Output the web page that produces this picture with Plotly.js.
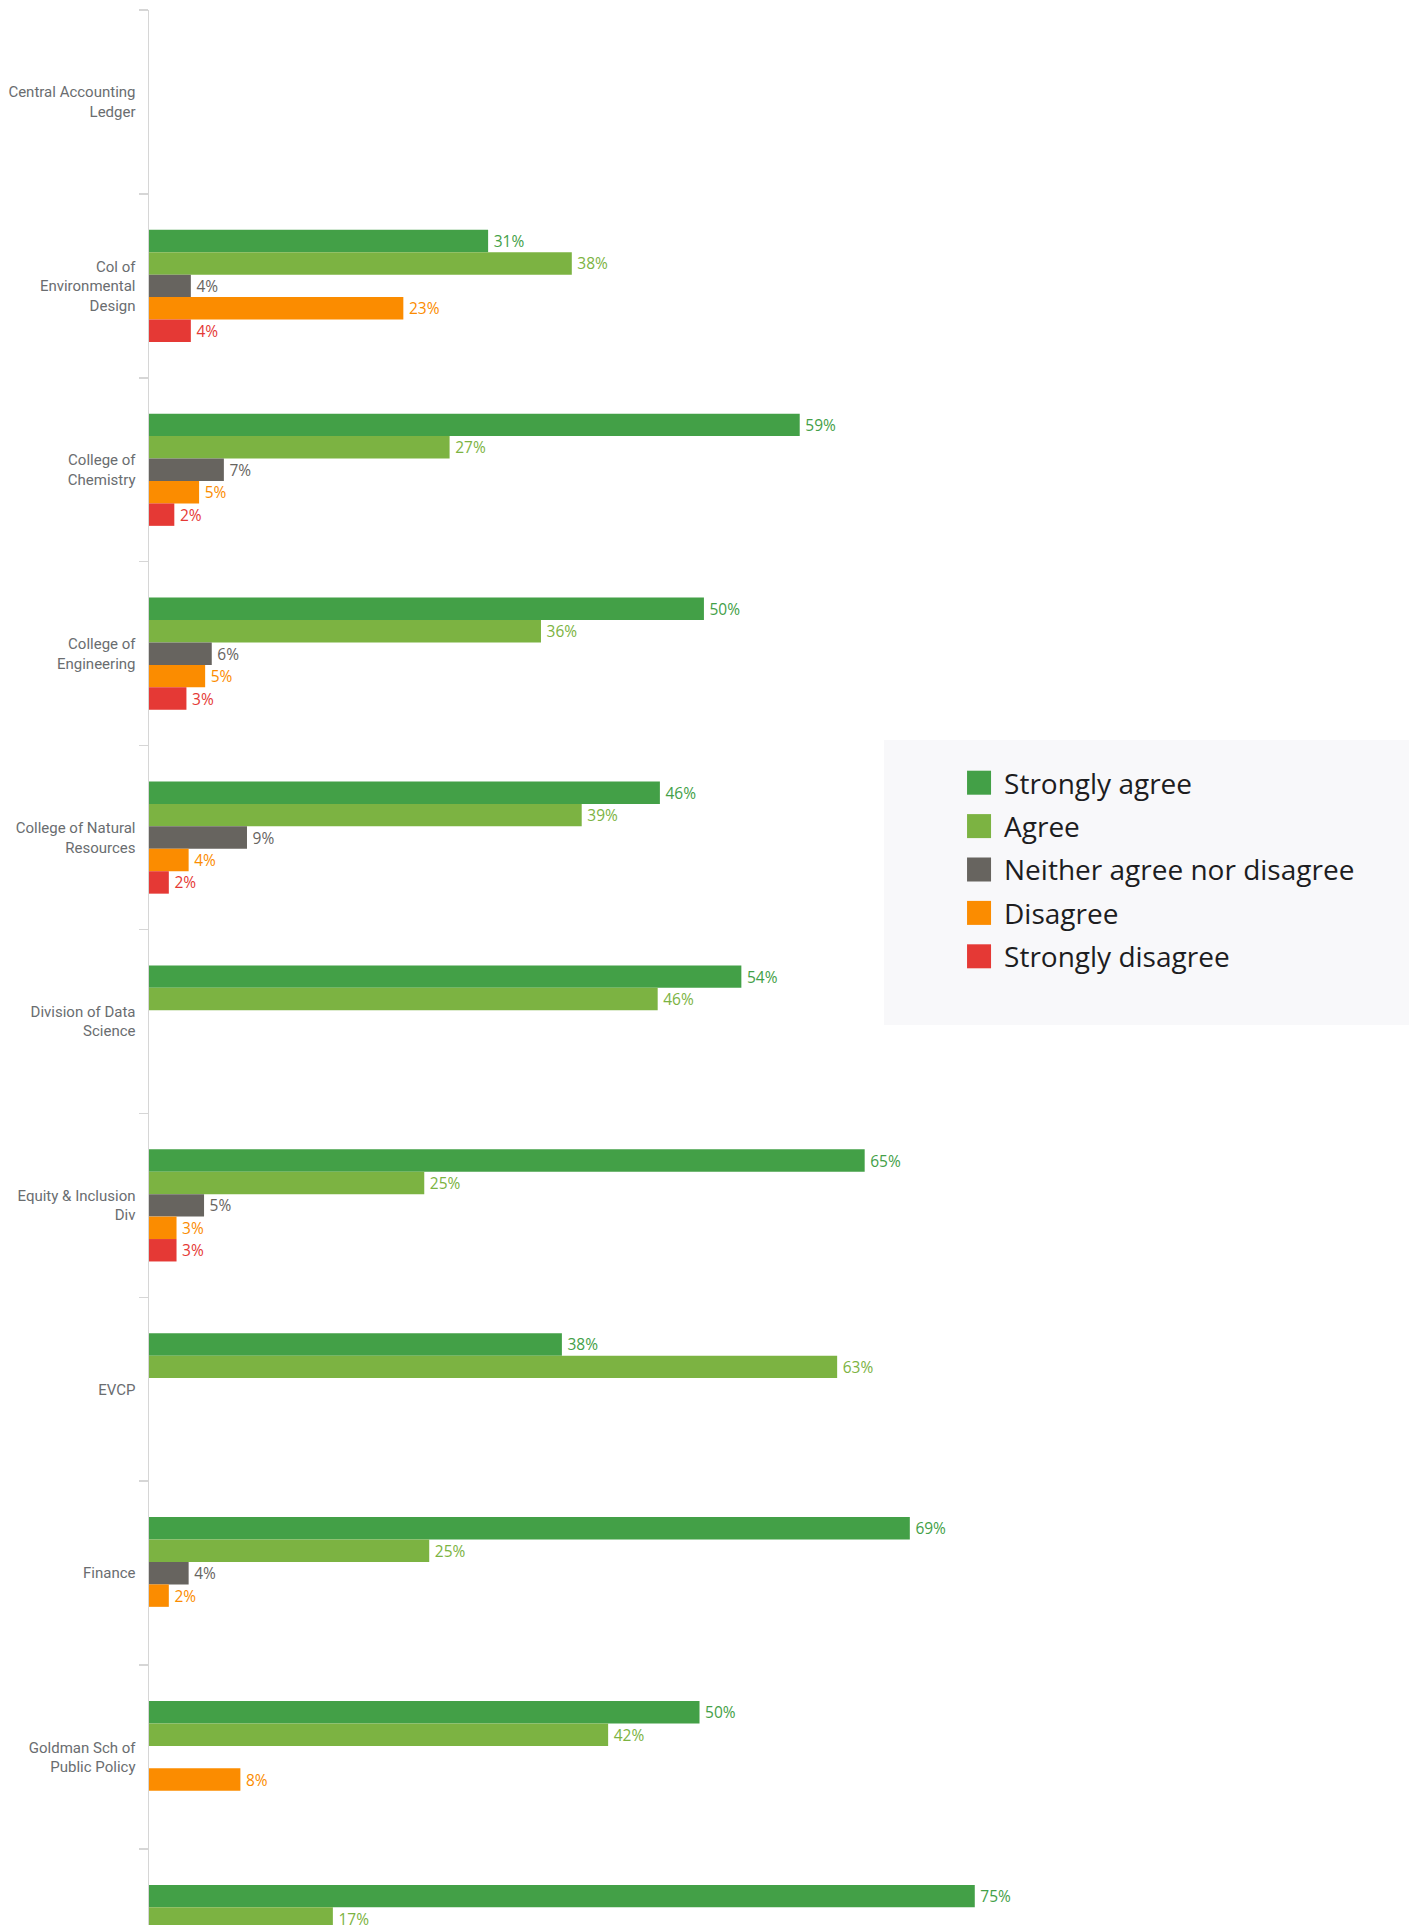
<!DOCTYPE html>
<html>
<head>
<meta charset="utf-8">
<script src="https://cdn.plot.ly/plotly-3.0.1.min.js"></script>
<style>
html,body{margin:0;padding:0;background:#ffffff;}
#chart{width:1413px;height:1925px;}
</style>
</head>
<body>
<div id="chart"></div>
<script>
// ---- data ----
const categories = [
  "Central Accounting Ledger",
  "Col of Environmental Design",
  "College of Chemistry",
  "College of Engineering",
  "College of Natural Resources",
  "Division of Data Science",
  "Equity & Inclusion Div",
  "EVCP",
  "Finance",
  "Goldman Sch of Public Policy",
  "Graduate Division"
];
const tickLabels = [
  "Central Accounting<br>Ledger",
  "Col of<br>Environmental<br>Design",
  "College of<br>Chemistry",
  "College of<br>Engineering",
  "College of Natural<br>Resources",
  "Division of Data<br>Science",
  "Equity & Inclusion<br>Div",
  "EVCP",
  "Finance",
  "Goldman Sch of<br>Public Policy",
  "Graduate Division"
];
const seriesNames = ["Strongly agree","Agree","Neither agree nor disagree","Disagree","Strongly disagree"];
const seriesColors = ["#43a047","#7cb342","#67645f","#fb8c00","#e53935"];

const stronglyAgree    = [null, 30.8, 59.1, 50.4, 46.4, 53.8, 65.0, 37.5, 69.1, 50.0, 75.0];
const agree            = [null, 38.4, 27.3, 35.6, 39.3, 46.2, 25.0, 62.5, 25.45, 41.7, 16.7];
const neither          = [null, 3.8, 6.8, 5.7, 8.9, null, 5.0, null, 3.6, null, null];
const disagree         = [null, 23.1, 4.55, 5.1, 3.6, null, 2.5, null, 1.8, 8.3, null];
const stronglyDisagree = [null, 3.8, 2.3, 3.4, 1.8, null, 2.5, null, null, null, null];

const seriesValues = [stronglyAgree, agree, neither, disagree, stronglyDisagree];

// ---- traces ----
const data = seriesValues.map((vals, i) => ({
  type: 'bar',
  orientation: 'h',
  name: seriesNames[i],
  legendgroup: 'g' + i,
  y: categories,
  x: vals,
  text: vals.map(v => v == null ? '' : '\u2009' + Math.round(v) + '%'),
  textposition: 'outside',
  cliponaxis: true,
  constraintext: 'none',
  textfont: {family: 'Open Sans, sans-serif', size: 15.5, color: seriesColors[i]},
  marker: {color: seriesColors[i], line: {width: 0}},
  hoverinfo: 'skip'
}));

const layout = {
  width: 1413,
  height: 1925,
  margin: {l: 149, r: 0, t: 10, b: 0},
  paper_bgcolor: '#ffffff',
  plot_bgcolor: '#ffffff',
  barmode: 'group',
  bargap: 0.39,
  bargroupgap: 0,
  font: {family: 'Roboto, sans-serif'},
  xaxis: {
    range: [0, 114.8],
    visible: false,
    fixedrange: true
  },
  yaxis: {
    type: 'category',
    categoryorder: 'array',
    categoryarray: categories,
    range: [9.913, -0.5],
    tickmode: 'array',
    tickvals: categories,
    ticktext: tickLabels,
    tickson: 'boundaries',
    ticks: 'outside',
    ticklen: 9,
    tickwidth: 1.5,
    tickcolor: '#d6d6d6',
    ticklabelstandoff: 9,
    showline: true,
    linecolor: '#d6d6d6',
    linewidth: 1.5,
    showgrid: false,
    zeroline: false,
    fixedrange: true,
    tickfont: {family: 'Roboto, sans-serif', size: 15, color: '#6a6d70'}
  },
  showlegend: true,
  legend: {
    x: 0.6369,
    xanchor: 'left',
    y: 0.6094,
    yanchor: 'top',
    bgcolor: 'rgba(0,0,0,0)',
    borderwidth: 0,
    tracegroupgap: 4,
    traceorder: 'grouped',
    itemwidth: 40,
    font: {family: 'Open Sans, sans-serif', size: 28, color: '#1d1d1f'}
  },
  shapes: [{
    type: 'rect',
    xref: 'paper', yref: 'paper',
    x0: 0.5815, x1: 0.9968, y0: 0.470, y1: 0.6188,
    fillcolor: '#f8f8fa',
    line: {width: 0},
    layer: 'below'
  }]
};

Plotly.newPlot('chart', data, layout, {staticPlot: true, displayModeBar: false}).then(gd => {
  gd.querySelectorAll('.legend .legendpoints path').forEach(p => {
    p.setAttribute('d', 'M12,12H-12V-12H12Z');
  });
});
</script>
</body>
</html>
